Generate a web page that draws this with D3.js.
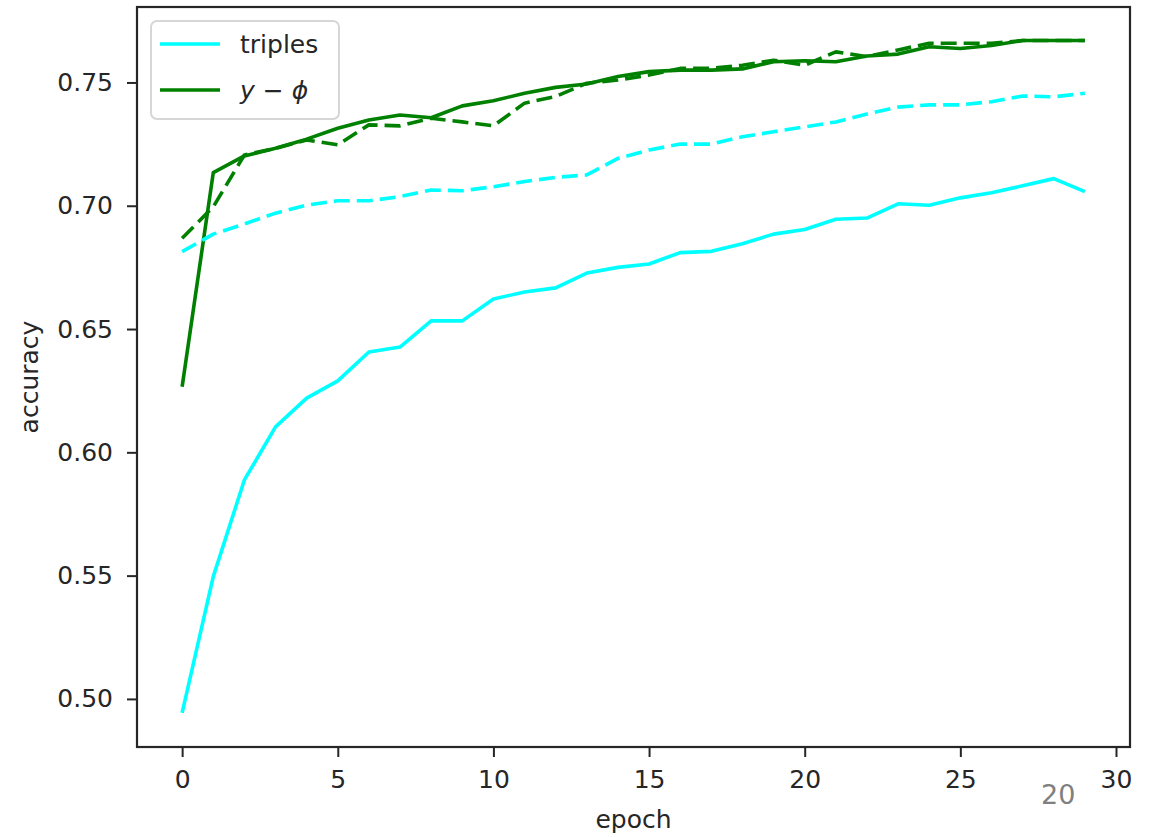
<!DOCTYPE html>
<html>
<head>
<meta charset="utf-8">
<script src="https://cdn.jsdelivr.net/npm/d3@7"></script>
<style>
  html, body { margin: 0; padding: 0; background: #fff; }
  svg { display: block; }
  text { font-family: "DejaVu Sans", sans-serif; fill: #262626; }
</style>
</head>
<body>
<svg id="chart" width="1155" height="837"></svg>
<script>
// Accuracy per epoch
const epochs = d3.range(30);
const triplesSolid = [0.4943, 0.5496, 0.5888, 0.6103, 0.6220, 0.6290, 0.6407, 0.6427, 0.6533, 0.6533,
                      0.6622, 0.6650, 0.6667, 0.6727, 0.6750, 0.6764, 0.6810, 0.6815, 0.6846, 0.6885,
                      0.6904, 0.6945, 0.6950, 0.7008, 0.7002, 0.7032, 0.7053, 0.7081, 0.7110, 0.7057];
const triplesDashed = [0.6814, 0.6885, 0.6926, 0.6970, 0.7003, 0.7020, 0.7020, 0.7037, 0.7064, 0.7061,
                       0.7077, 0.7098, 0.7115, 0.7125, 0.7192, 0.7226, 0.7250, 0.7250, 0.7280, 0.7300,
                       0.7320, 0.7340, 0.7372, 0.7400, 0.7409, 0.7409, 0.7422, 0.7445, 0.7442, 0.7456];
const yPhiSolid = [0.6266, 0.7134, 0.7202, 0.7233, 0.7270, 0.7314, 0.7348, 0.7368, 0.7357, 0.7405,
                   0.7426, 0.7456, 0.7480, 0.7494, 0.7524, 0.7544, 0.7550, 0.7550, 0.7555, 0.7584,
                   0.7588, 0.7584, 0.7607, 0.7615, 0.7645, 0.7638, 0.7650, 0.7670, 0.7670, 0.7670];
const yPhiDashed = [0.6868, 0.6996, 0.7206, 0.7233, 0.7267, 0.7247, 0.7328, 0.7324, 0.7355, 0.7340,
                    0.7324, 0.7416, 0.7443, 0.7497, 0.7510, 0.7530, 0.7557, 0.7557, 0.7570, 0.7590,
                    0.7570, 0.7624, 0.7605, 0.7632, 0.7659, 0.7659, 0.7659, 0.7670, 0.7670, 0.7670];

const xTicks = [0, 5, 10, 15, 20, 25, 30];
const yTicks = [0.50, 0.55, 0.60, 0.65, 0.70, 0.75];

const CYAN = "#00ffff", GREEN = "#008000";

const svg = d3.select("#chart");
const W = 1155, H = 837;
const m = { left: 137, right: 25, top: 7, bottom: 90 };
const pw = W - m.left - m.right, ph = H - m.top - m.bottom;

const x = d3.scaleLinear().domain([-1.45, 30.45]).range([m.left, m.left + pw]);
const y = d3.scaleLinear().domain([0.4805, 0.7806]).range([m.top + ph, m.top]);

const line = vals => d3.line().x((d, i) => x(epochs[i])).y(d => y(d))(vals);

const series = [
  { v: triplesSolid, c: CYAN, dash: null },
  { v: yPhiSolid, c: GREEN, dash: null },
  { v: triplesDashed, c: CYAN, dash: "16,7" },
  { v: yPhiDashed, c: GREEN, dash: "16,7" }
];

const plot = svg.append("g");
series.forEach(s => {
  plot.append("path")
    .attr("d", line(s.v))
    .attr("fill", "none")
    .attr("stroke", s.c)
    .attr("stroke-width", 3.6)
    .attr("stroke-linejoin", "round")
    .attr("stroke-dasharray", s.dash);
});

// axes
const xAxis = svg.append("g")
  .attr("transform", `translate(0,${m.top + ph})`)
  .call(d3.axisBottom(x).tickValues(xTicks).tickFormat(d3.format("d"))
        .tickSize(10).tickSizeOuter(0).tickPadding(13));
const yAxis = svg.append("g")
  .attr("transform", `translate(${m.left},0)`)
  .call(d3.axisLeft(y).tickValues(yTicks).tickFormat(d3.format(".2f"))
        .tickSize(10).tickSizeOuter(0).tickPadding(14));
[xAxis, yAxis].forEach(g => {
  g.select(".domain").remove();
  g.selectAll(".tick line").attr("stroke", "#262626").attr("stroke-width", 2);
  g.selectAll(".tick text").attr("font-size", 25).attr("font-family", "DejaVu Sans").attr("fill", "#262626");
});

// frame
svg.append("rect")
  .attr("x", m.left).attr("y", m.top).attr("width", pw).attr("height", ph)
  .attr("fill", "none").attr("stroke", "#262626").attr("stroke-width", 2.2);

// axis labels
svg.append("text")
  .attr("x", m.left + pw / 2).attr("y", 828)
  .attr("text-anchor", "middle").attr("font-size", 25)
  .text("epoch");
svg.append("text")
  .attr("transform", `translate(38,${m.top + ph / 2}) rotate(-90)`)
  .attr("text-anchor", "middle").attr("font-size", 25)
  .text("accuracy");

// legend
const leg = svg.append("g");
leg.append("rect")
  .attr("x", 151).attr("y", 21).attr("width", 188).attr("height", 98).attr("rx", 6)
  .attr("fill", "#fff").attr("fill-opacity", 0.8)
  .attr("stroke", "#d6d6d6").attr("stroke-width", 2);
const legendItems = [
  { c: CYAN, yy: 44 },
  { c: GREEN, yy: 90 }
];
legendItems.forEach(it => {
  leg.append("line")
    .attr("x1", 160).attr("x2", 220).attr("y1", it.yy).attr("y2", it.yy)
    .attr("stroke", it.c).attr("stroke-width", 3.6);
});
leg.append("text").attr("x", 240).attr("y", 53).attr("font-size", 25).text("triples");
const t2 = leg.append("text").attr("x", 240).attr("y", 99).attr("font-size", 25);
t2.append("tspan").attr("font-style", "italic").text("y");
t2.append("tspan").text(" − ");
t2.append("tspan").attr("font-style", "italic").text("ϕ");

// page number
svg.append("text")
  .attr("x", 1041).attr("y", 804)
  .attr("font-family", "Open Sans").attr("font-size", 27)
  .style("fill", "#808080")
  .text("20");
</script>
</body>
</html>
